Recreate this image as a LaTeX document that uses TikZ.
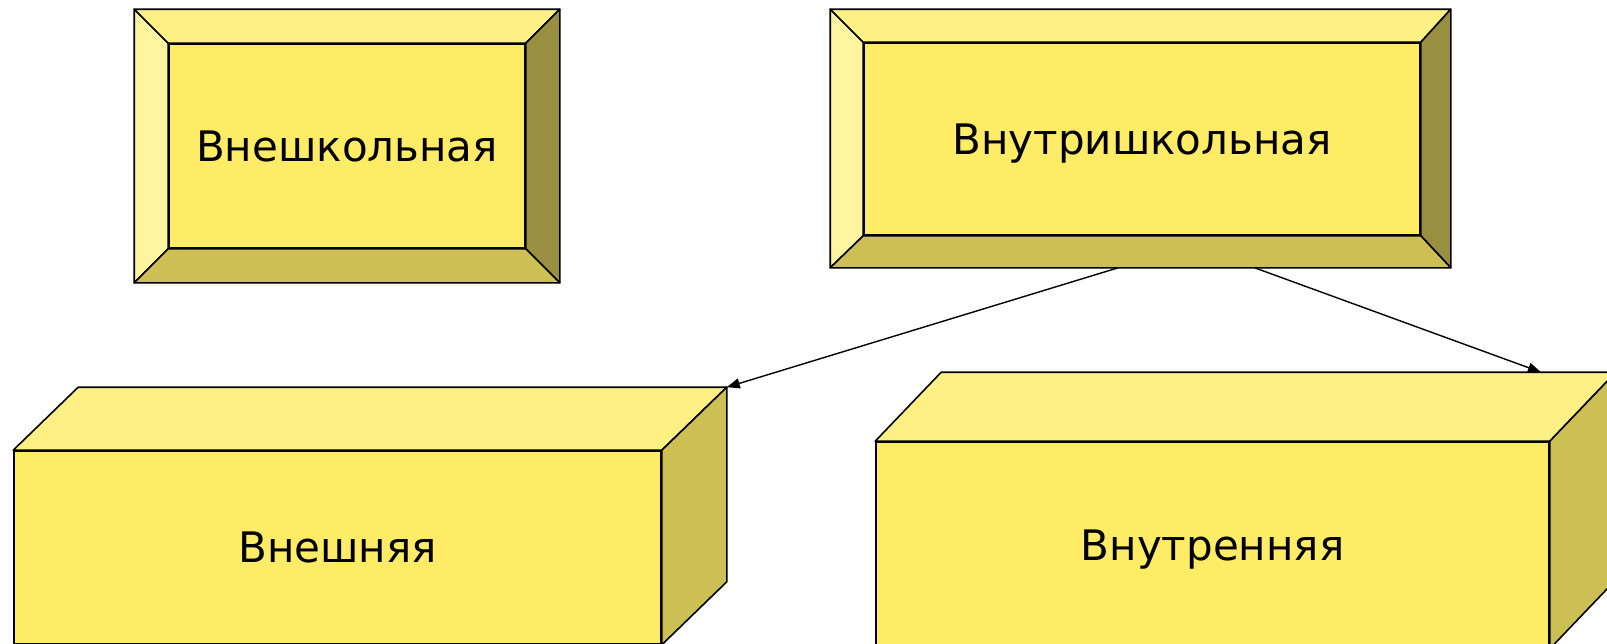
\documentclass[tikz,border=0pt]{standalone}
\usepackage{fontspec}
\setmainfont{DejaVu Sans}
\usetikzlibrary{calc,arrows.meta}
\definecolor{facec}{RGB}{255,236,102}
\definecolor{topc}{RGB}{255,240,134}
\definecolor{lightc}{RGB}{255,245,160}
\definecolor{sidec}{RGB}{204,192,85}
\definecolor{darkc}{RGB}{153,143,64}
\begin{document}
\begin{tikzpicture}[x=1pt,y=-1pt,line width=1.6pt,line join=round,
  facebox/.style={draw=black,fill=facec,inner sep=0pt,font=\fontsize{42}{48}\selectfont},
  outerbox/.style={draw=black,fill=topc,inner sep=0pt},
  conn/.style={-{Triangle[length=13pt,width=10pt]},line width=1.4pt}]
\useasboundingbox (0,0) rectangle (1607,643);
% ---- box 1 (bevel) ----
\node[outerbox,minimum width=424pt,minimum height=272pt] (b1o) at (347,146) {};
\node[facebox,minimum width=356pt,minimum height=204pt,text depth=-4pt] (b1) at (347,146) {Внешкольная};
\filldraw[fill=lightc] (b1o.north west) -- (b1.north west) -- (b1.south west) -- (b1o.south west) -- cycle;
\filldraw[fill=topc] (b1o.north west) -- (b1o.north east) -- (b1.north east) -- (b1.north west) -- cycle;
\filldraw[fill=darkc] (b1o.north east) -- (b1o.south east) -- (b1.south east) -- (b1.north east) -- cycle;
\filldraw[fill=sidec] (b1o.south west) -- (b1o.south east) -- (b1.south east) -- (b1.south west) -- cycle;
% ---- box 2 (bevel) ----
\node[outerbox,minimum width=619pt,minimum height=257pt] (b2o) at (1140.5,138.5) {};
\node[facebox,minimum width=556pt,minimum height=192pt,text depth=-10pt] (b2) at (1142,139) {Внутришкольная};
\filldraw[fill=lightc] (b2o.north west) -- (b2.north west) -- (b2.south west) -- (b2o.south west) -- cycle;
\filldraw[fill=topc] (b2o.north west) -- (b2o.north east) -- (b2.north east) -- (b2.north west) -- cycle;
\filldraw[fill=darkc] (b2o.north east) -- (b2o.south east) -- (b2.south east) -- (b2.north east) -- cycle;
\filldraw[fill=sidec] (b2o.south west) -- (b2o.south east) -- (b2.south east) -- (b2.south west) -- cycle;
% ---- box 3 (cuboid) ----
\node[facebox,minimum width=647pt,minimum height=193pt] (b3) at (337.5,547.5) {Внешняя};
\coordinate (b3bl) at ($(b3.north west)+(65,-63)$);
\coordinate (b3br) at ($(b3.north east)+(65,-63)$);
\coordinate (b3bs) at ($(b3.south east)+(65,-63)$);
\filldraw[fill=topc] (b3.north west) -- (b3bl) -- (b3br) -- (b3.north east) -- cycle;
\filldraw[fill=sidec] (b3.north east) -- (b3br) -- (b3bs) -- (b3.south east) -- cycle;
% ---- box 4 (cuboid) ----
\node[facebox,minimum width=673pt,minimum height=206pt,text depth=-10pt] (b4) at (1212.5,545) {Внутренняя};
\coordinate (b4bl) at ($(b4.north west)+(66,-69)$);
\coordinate (b4br) at ($(b4.north east)+(66,-69)$);
\coordinate (b4bs) at ($(b4.south east)+(66,-69)$);
\filldraw[fill=topc] (b4.north west) -- (b4bl) -- (b4br) -- (b4.north east) -- cycle;
\filldraw[fill=sidec] (b4.north east) -- (b4br) -- (b4bs) -- (b4.south east) -- cycle;
% ---- connectors ----
\coordinate (s1) at ($(b2o.south west)!0.464!(b2o.south east)$);
\coordinate (s2) at ($(b2o.south west)!0.684!(b2o.south east)$);
\coordinate (t2) at ($(b4bl)!0.889!(b4br)$);
\draw[conn] (s1) -- (b3br);
\draw[conn] (s2) -- (t2);
\end{tikzpicture}
\end{document}
